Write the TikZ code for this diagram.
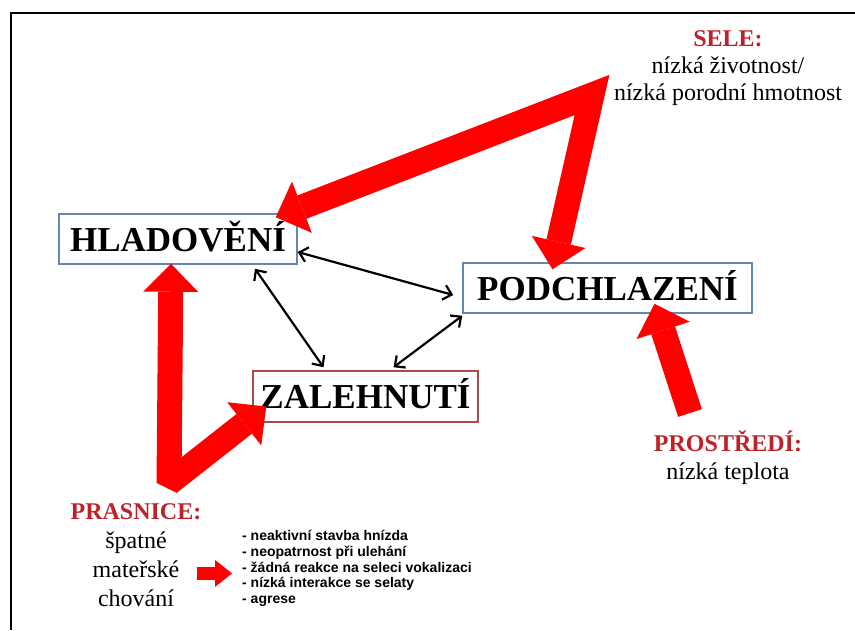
\documentclass[tikz,border=0pt]{standalone}
\usepackage{fontspec}
\setmainfont{Liberation Serif}
\newfontfamily\listfont{Liberation Sans}
\usetikzlibrary{arrows.meta,positioning}

\definecolor{boxblue}{RGB}{96,136,178}
\definecolor{boxred}{RGB}{170,75,75}
\definecolor{labelred}{RGB}{192,32,40}
\definecolor{arrowred}{RGB}{255,0,0}

\tikzset{
  statebox/.style={draw, line width=1.5pt, inner sep=0pt, minimum height=50pt,
    text height=24pt, text depth=0pt, font=\fontsize{35}{40}\selectfont\bfseries},
  causetext/.style={align=center, inner sep=0pt, font=\fontsize{24}{28}\selectfont},
  linkarrow/.style={line width=2.2pt,
    {Straight Barb[length=8pt,width=15pt]}-{Straight Barb[length=8pt,width=15pt]}},
  bigarrow/.style={draw=arrowred, line width=25pt, line join=miter},
  bigtips/.style={bigarrow, {Triangle[length=28pt,width=55pt,line width=0pt]}-{Triangle[length=28pt,width=55pt,line width=0pt]}},
  bigtip/.style={bigarrow, -{Triangle[length=28pt,width=56pt,line width=0pt]}},
  smallarrow/.style={draw=arrowred, line width=13pt, -{Triangle[length=17pt,width=27pt,line width=0pt]}}
}

\begin{document}
\begin{tikzpicture}[x=1pt,y=-1pt]
  \useasboundingbox (0,0) rectangle (855,630);
  \draw[line width=2pt] (11,630) -- (11,13) -- (855,13);

  \node[statebox, draw=boxblue, minimum width=238pt] (hlad) at (178,239) {HLADOVĚNÍ};
  \node[statebox, draw=boxblue, minimum width=289pt] (podch) at (607.5,288) {PODCHLAZENÍ};
  \node[statebox, draw=boxred, minimum width=225pt, minimum height=51pt] (zaleh) at (365.5,396.5) {ZALEHNUTÍ};

  \draw[linkarrow] ([yshift=-13pt]hlad.east) -- ([xshift=-9pt,yshift=-7pt]podch.west);
  \draw[linkarrow] ([xshift=77pt,yshift=-4pt]hlad.south) -- ([xshift=-42pt,yshift=3pt]zaleh.north);
  \draw[linkarrow] ([yshift=-2pt]podch.south west) -- ([xshift=28pt,yshift=3pt]zaleh.north);

  \node[causetext, anchor=north, font=\fontsize{24}{27}\selectfont] (sele) at (728,30)
    {\textcolor{labelred}{\bfseries SELE:}\\nízká životnost/\\nízká porodní hmotnost};
  \node[causetext, anchor=north] (prostr) at (728,430)
    {\textcolor{labelred}{\bfseries PROSTŘEDÍ:}\\nízká teplota};
  \node[causetext, anchor=north, font=\fontsize{24}{29}\selectfont] (pras) at (136,503)
    {\textcolor{labelred}{\bfseries PRASNICE:}\\špatné\\mateřské\\chování};
  \node[align=left, inner sep=0pt, anchor=north west, font=\listfont\bfseries\fontsize{14}{15.8}\selectfont] (list) at (242,530)
    {- neaktivní stavba hnízda\\- neopatrnost při ulehání\\- žádná reakce na seleci vokalizaci\\- nízká interakce se selaty\\- agrese};

  \coordinate (seleBend) at (592,95);
  \coordinate (prasBend) at (169,483);
  \draw[bigtips] ([xshift=-22pt,yshift=-4pt]hlad.north east) -- (seleBend) -- ([xshift=-55pt,yshift=-7pt]podch.north);
  \draw[bigtips, line join=bevel] ([xshift=-7pt,yshift=1pt]hlad.south) -- (prasBend) -- ([xshift=14pt,yshift=-10pt]zaleh.west);
  \draw[bigtip] ([xshift=-38pt,yshift=17pt]prostr.north) -- ([xshift=47pt,yshift=10pt]podch.south);
  \draw[smallarrow] ([xshift=-45pt,yshift=-5pt]list.west) -- ([xshift=-10pt,yshift=-5pt]list.west);
\end{tikzpicture}
\end{document}
